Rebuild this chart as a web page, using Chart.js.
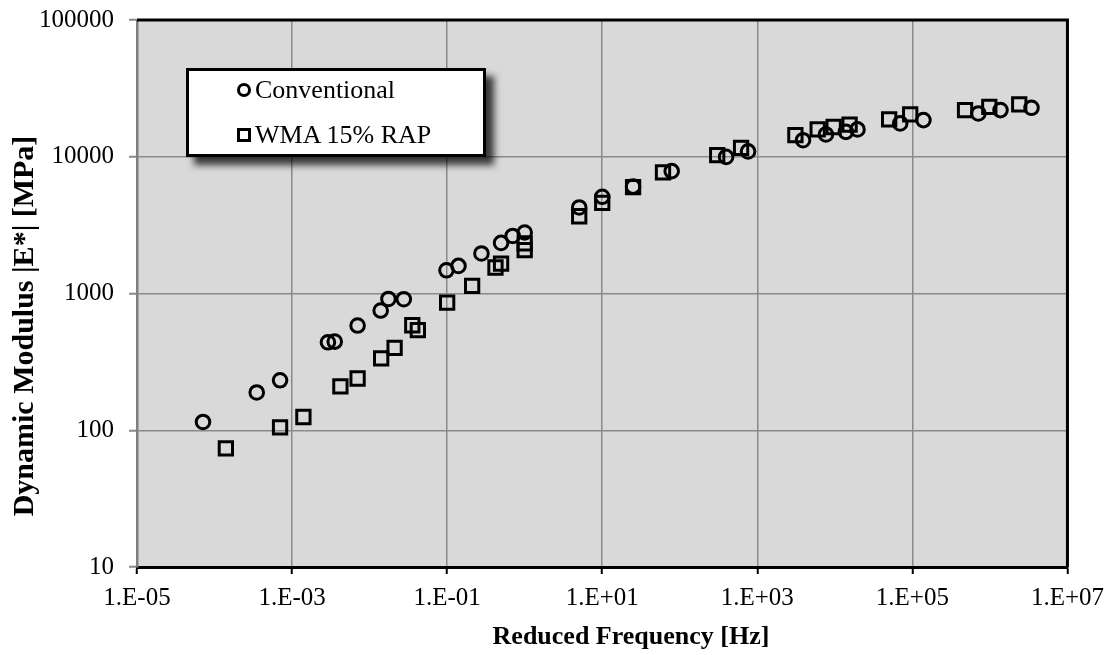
<!DOCTYPE html>
<html>
<head>
<meta charset="utf-8">
<script src="https://cdn.jsdelivr.net/npm/chart.js@4/dist/chart.umd.min.js"></script>
<style>
  body { margin: 0; background: #fff; }
  #wrap { position: relative; width: 1113px; height: 655px; }
  #legend {
    position: absolute; left: 186px; top: 68px; width: 294px; height: 83px;
    background: #fff; border: 3px solid #000;
    box-shadow: 8px 8px 7px rgba(0, 0, 0, 0.75);
    font-family: 'Liberation Serif', serif; font-size: 26px; color: #000;
  }
  .row { position: absolute; left: 48px; display: flex; align-items: center; }
  .mk { width: 8px; height: 8px; border: 3px solid #000; margin-right: 4px; }
  .mk.circle { border-radius: 50%; }
</style>
</head>
<body>
<div id="wrap">
  <canvas id="chart" width="1113" height="655"></canvas>
  <div id="legend">
    <div class="row" style="top: 4px"><span class="mk circle"></span>Conventional</div>
    <div class="row" style="top: 49px"><span class="mk"></span>WMA 15% RAP</div>
  </div>
</div>
<script>
const convFreq = [7.1e-5, 3.5e-4, 7.0e-4, 2.9e-3, 3.55e-3, 7.0e-3, 0.0139, 0.0175, 0.0276, 0.098,
  0.14, 0.277, 0.496, 0.70, 1.0, 5.05, 10, 25, 78.7, 396,
  760, 3890, 7680, 13900, 19600, 69600, 139000, 710000, 1.37e6, 3.44e6]
const convModulus = [115, 189, 232, 440, 445, 583, 751, 912, 908, 1479,
  1592, 1963, 2345, 2636, 2793, 4256, 5094, 6050, 7850, 9975,
  10940, 13210, 14560, 15210, 15850, 17540, 18540, 20740, 21930, 22800]

const wmaFreq = [1.4e-4, 7.0e-4, 1.4e-3, 4.2e-3, 7.0e-3, 0.0141, 0.021, 0.0355, 0.0419, 0.1,
  0.21, 0.42, 0.496, 1.0, 1.0, 5.05, 10, 25, 60.8, 304,
  618, 3100, 6010, 9660, 15500, 50200, 93800, 478000, 982000, 2.39e6]
const wmaModulus = [73.8, 105, 125, 209, 239, 335, 400, 586, 539, 859,
  1138, 1549, 1656, 2323, 2075, 3673, 4603, 6000, 7674, 10280,
  11610, 14390, 15850, 16500, 17200, 18760, 20400, 21930, 23190, 24150]

const xTickValues = [1e-5, 1e-3, 1e-1, 1e1, 1e3, 1e5, 1e7]
const xTickLabels = ['1.E-05', '1.E-03', '1.E-01', '1.E+01', '1.E+03', '1.E+05', '1.E+07']
const yTickValues = [10, 100, 1000, 10000, 100000]
const yTickLabels = ['10', '100', '1000', '10000', '100000']

const seriesNames = ['Conventional', 'WMA 15% RAP']

const font = 'Liberation Serif'

const toPoints = (xs, ys) => xs.map((x, i) => ({ x, y: ys[i] }))

const plotBackground = {
  id: 'plotBackground',
  beforeDraw(chart) {
    const { ctx, chartArea: a } = chart
    ctx.save()
    ctx.fillStyle = '#d9d9d9'
    ctx.fillRect(a.left, a.top, a.right - a.left, a.bottom - a.top)
    ctx.restore()
  },
  beforeDatasetsDraw(chart) {
    const { ctx, chartArea: a } = chart
    ctx.save()
    ctx.strokeStyle = '#000'
    ctx.lineWidth = 3
    ctx.beginPath()
    ctx.moveTo(a.left, a.top)
    ctx.lineTo(a.right, a.top)
    ctx.lineTo(a.right, a.bottom)
    ctx.stroke()
    ctx.restore()
  },
}

// axis titles sit off-centre in the original, so draw them by hand
const axisTitles = {
  id: 'axisTitles',
  afterDraw(chart) {
    const { ctx } = chart
    ctx.save()
    ctx.fillStyle = '#000'
    ctx.textAlign = 'center'
    ctx.textBaseline = 'middle'
    ctx.font = `bold 26px "${font}"`
    ctx.fillText('Reduced Frequency [Hz]', 631, 637)
    ctx.font = `bold 30px "${font}"`
    ctx.translate(25, 326)
    ctx.rotate(-Math.PI / 2)
    ctx.fillText('Dynamic Modulus |E*| [MPa]', 0, 0)
    ctx.restore()
  },
}

new Chart(document.querySelector('#chart'), {
  type: 'scatter',
  data: {
    datasets: [
      {
        label: seriesNames[0],
        data: toPoints(convFreq, convModulus),
        pointStyle: 'circle',
        pointRadius: 6.8,
        pointBorderWidth: 3,
        borderColor: '#000',
        backgroundColor: 'rgba(0,0,0,0)',
      },
      {
        label: seriesNames[1],
        data: toPoints(wmaFreq, wmaModulus),
        pointStyle: 'rect',
        pointRadius: 9.4,
        pointBorderWidth: 3,
        borderColor: '#000',
        backgroundColor: 'rgba(0,0,0,0)',
      },
    ],
  },
  options: {
    responsive: false,
    animation: false,
    events: [],
    layout: { padding: { top: 20, right: 44, left: 0, bottom: 0 } },
    plugins: {
      legend: { display: false },
      tooltip: { enabled: false },
    },
    scales: {
      x: {
        type: 'logarithmic',
        min: 1e-5,
        max: 1e7,
        afterBuildTicks: scale => { scale.ticks = xTickValues.map(value => ({ value })) },
        afterFit: scale => { scale.height = 88 },
        ticks: {
          autoSkip: false,
          maxRotation: 0,
          padding: 9,
          color: '#000',
          font: { family: font, size: 25 },
          callback: (value, index) => xTickLabels[index],
        },
        grid: { color: '#8a8a8a', lineWidth: 1.5, tickLength: 7, tickColor: '#000', tickWidth: 2 },
        border: { color: '#000', width: 3 },
      },
      y: {
        type: 'logarithmic',
        min: 10,
        max: 100000,
        afterBuildTicks: scale => { scale.ticks = yTickValues.map(value => ({ value })) },
        afterFit: scale => {
          scale.width = 137
          scale.paddingTop = 0
          scale.paddingBottom = 0
        },
        ticks: {
          autoSkip: false,
          padding: 15,
          color: '#000',
          font: { family: font, size: 25 },
          callback: (value, index) => yTickLabels[index],
        },
        grid: { color: '#8a8a8a', lineWidth: 1.5, tickLength: 8, tickColor: '#8a8a8a', tickWidth: 2 },
        border: { color: '#7f7f7f', width: 2.5 },
      },
    },
  },
  plugins: [plotBackground, axisTitles],
})
</script>
</body>
</html>
